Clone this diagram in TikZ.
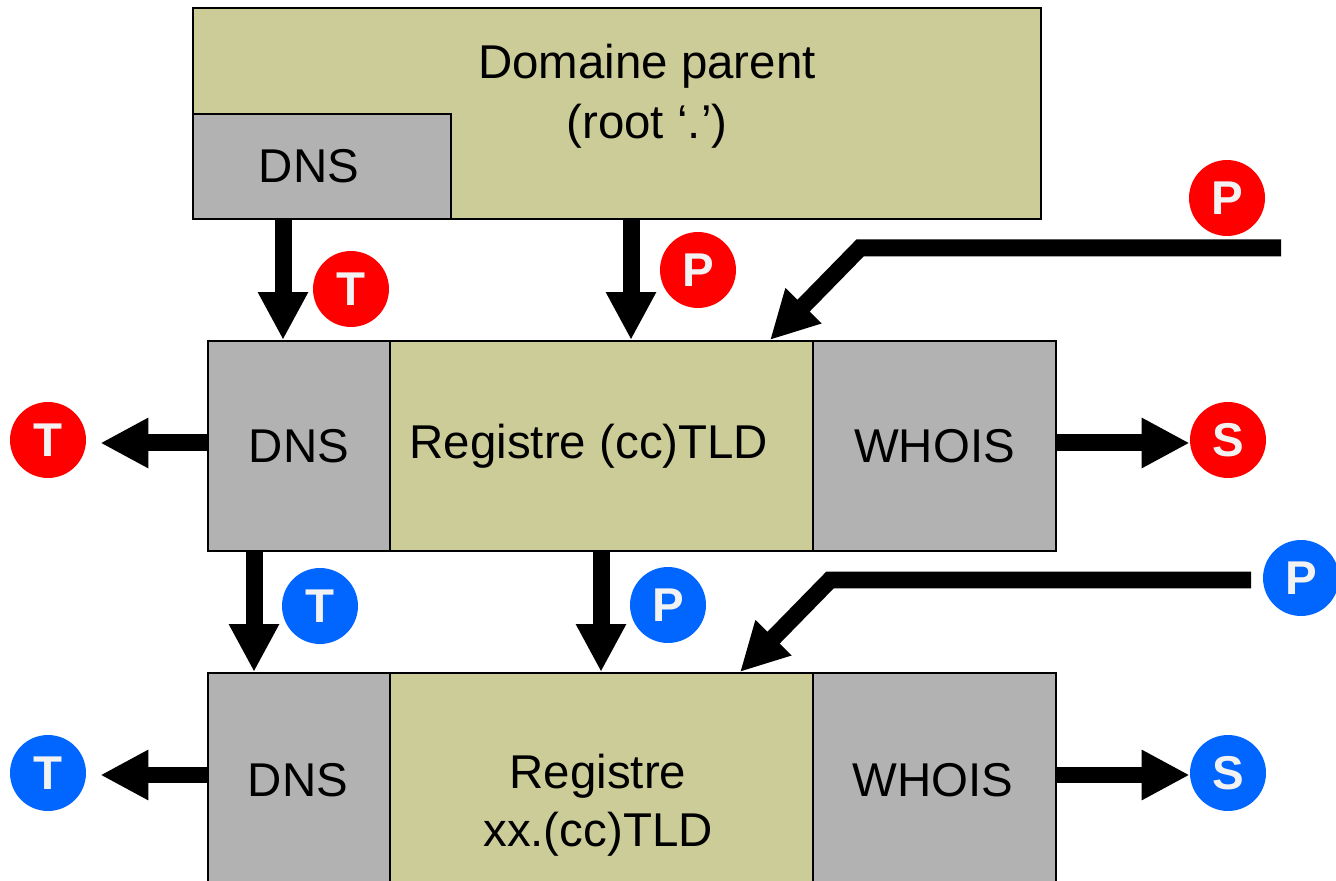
\documentclass[tikz,border=0pt]{standalone}
\usepackage{fontspec}
\setmainfont{Liberation Sans}
\usetikzlibrary{positioning, arrows.meta, calc}
\definecolor{regolive}{HTML}{CCCC99}
\definecolor{dnsgray}{HTML}{B2B2B2}
\definecolor{tldred}{HTML}{FF0000}
\definecolor{ccblue}{HTML}{0066FF}
\definecolor{badgetext}{HTML}{F2F2F2}

\tikzset{
  box/.style={draw=black, line width=1.1pt, anchor=north west, inner sep=0pt,
    font=\fontsize{27}{34}\selectfont, align=center},
  olivebox/.style={box, fill=regolive},
  graybox/.style={box, fill=dnsgray},
  boxtext/.style={inner sep=0pt, font=\fontsize{27}{33}\selectfont, align=center},
  badge/.style={circle, minimum size=1.52cm, inner sep=0pt, text=badgetext,
    font=\fontsize{27}{27}\selectfont\bfseries},
  bigarrow/.style={line width=0.34cm, line join=miter,
    -{Triangle[length=0.96cm, width=0.94cm]}}
}

\begin{document}
\begin{tikzpicture}[x=0.02cm, y=-0.02cm]

    \useasboundingbox (0,0) rectangle (1336,881);
    \clip (0,0) rectangle (1336,881);

    % Domaine parent
    \node[olivebox, minimum width=848*0.02cm, minimum height=211*0.02cm] (parent) at (192,7) {};
    \node[font=\fontsize{27}{34}\selectfont, align=center] (parentlbl) at (647,96) {Domaine parent\\(root ‘.’)};
    \node[graybox, minimum width=258*0.02cm, minimum height=105*0.02cm] (dnsTop) at (192,113) {\hspace*{-0.52cm}\raisebox{-0.06cm}{DNS}};

    % Registre (cc)TLD
    \node[graybox, minimum width=182*0.02cm, minimum height=210*0.02cm] (dnsMid) at (207,340) {\raisebox{-0.2cm}{DNS}};
    \node[olivebox, minimum width=423*0.02cm, minimum height=210*0.02cm] (regMid) at (389,340) {\hspace*{-0.5cm}Registre (cc)TLD};
    \node[graybox, minimum width=243*0.02cm, minimum height=210*0.02cm] (whoisMid) at (812,340) {\raisebox{-0.2cm}{WHOIS}};

    % Registre xx.(cc)TLD
    \node[graybox, minimum width=182*0.02cm, minimum height=230*0.02cm] (dnsBot) at (207,672) {};
    \node[olivebox, minimum width=423*0.02cm, minimum height=230*0.02cm] (regBot) at (389,672) {};
    \node[graybox, minimum width=243*0.02cm, minimum height=230*0.02cm] (whoisBot) at (812,672) {};
    \node[boxtext] (dnsBotlbl) at (298,780) {DNS};
    \node[boxtext] (regBotlbl) at (598,805) {Registre\\xx.(cc)TLD};
    \node[boxtext] (whoisBotlbl) at (933,780) {WHOIS};

    % Pastilles rouges
    \node[badge, fill=tldred] (tA) at (351,289) {T};
    \node[badge, fill=tldred] (pA) at (698,270) {P};
    \node[badge, fill=tldred] (pAin) at (1227,198) {P};
    \node[badge, fill=tldred] (tAout) at (48,440) {T};
    \node[badge, fill=tldred] (sAout) at (1228,440) {S};

    % Pastilles bleues
    \node[badge, fill=ccblue] (tB) at (320,606) {T};
    \node[badge, fill=ccblue] (pB) at (668,605) {P};
    \node[badge, fill=ccblue] (pBin) at (1301,578) {P};
    \node[badge, fill=ccblue] (tBout) at (48,773) {T};
    \node[badge, fill=ccblue] (sBout) at (1228,773) {S};

    % Delegation vers le registre (cc)TLD
    \draw[bigarrow] (283,0 |- dnsTop.south) -- (283,0 |- dnsMid.north);
    \draw[bigarrow] (631,0 |- parent.south) -- (631,0 |- regMid.north);
    \coordinate (feedA) at (1281,248);
    \draw[bigarrow] (feedA) -- (860,248) -- (770,0 |- regMid.north);
    \draw[bigarrow, shorten >=14*0.02cm] (dnsMid.west |- 0,443) -- (tAout.east |- 0,443);
    \draw[bigarrow] (whoisMid.east |- 0,443) -- (sAout.west |- 0,443);

    % Delegation vers le registre xx.(cc)TLD
    \draw[bigarrow] (254,0 |- dnsMid.south) -- (254,0 |- dnsBot.north);
    \draw[bigarrow] (601,0 |- regMid.south) -- (601,0 |- regBot.north);
    \coordinate (feedB) at (1251,580);
    \draw[bigarrow] (feedB) -- (830,580) -- (740,0 |- regBot.north);
    \draw[bigarrow, shorten >=14*0.02cm] (dnsBot.west |- 0,775) -- (tBout.east |- 0,775);
    \draw[bigarrow] (whoisBot.east |- 0,775) -- (sBout.west |- 0,775);

\end{tikzpicture}
\end{document}
